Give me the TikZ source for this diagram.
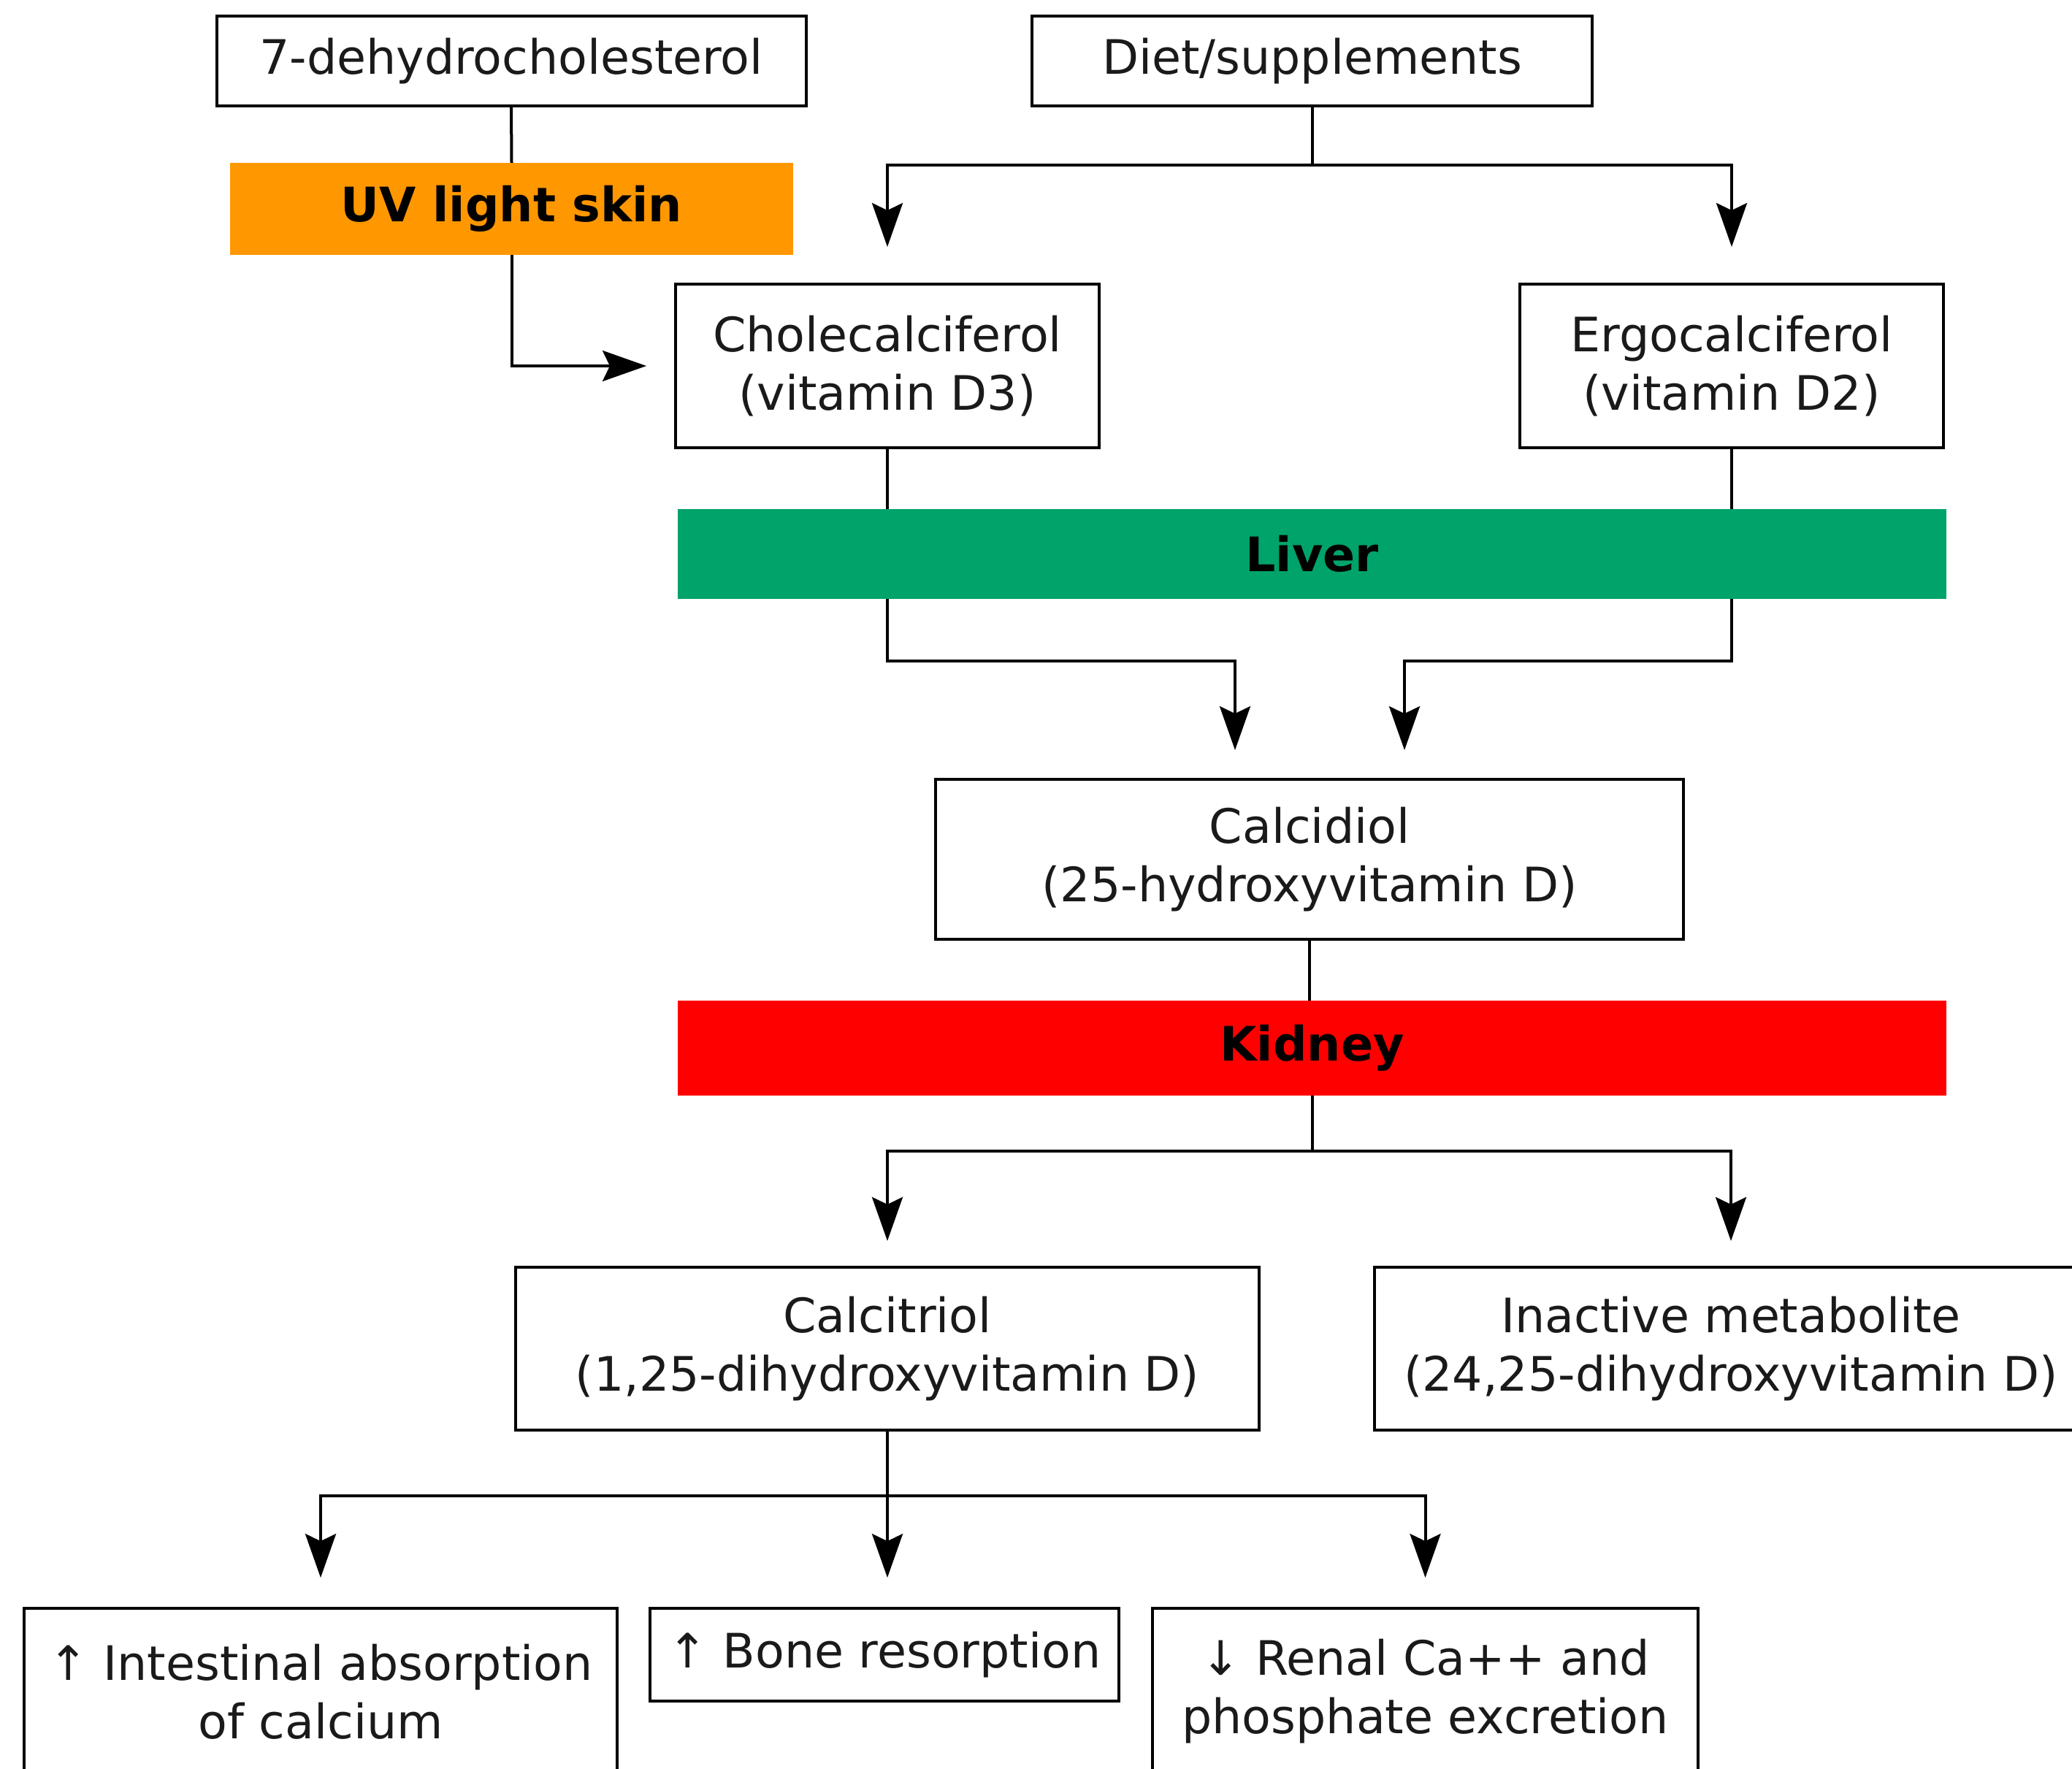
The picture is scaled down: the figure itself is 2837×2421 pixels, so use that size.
\documentclass[tikz,border=0pt]{standalone}
\usepackage{fontspec}
\setmainfont{DejaVu Sans}
\usetikzlibrary{arrows.meta}
\definecolor{uvorange}{HTML}{FF9700}
\definecolor{livergreen}{HTML}{00A36A}
\definecolor{kidneyred}{HTML}{FF0000}
\definecolor{txt}{HTML}{1A1A1A}
\begin{document}
\begin{tikzpicture}[x=1pt,y=-1pt,
  box/.style={draw=black, line width=4pt, fill=white, align=center, inner sep=0pt, text=txt,
    font=\fontsize{65}{80}\selectfont},
  bar/.style={inner sep=0pt, text=black, font=\bfseries\fontsize{65}{80}\selectfont},
  conn/.style={line width=4pt, draw=black},
  arr/.style={conn, -{Stealth[length=60pt,width=42pt,inset=10pt]}}]
\fill[white] (0,0) rectangle (2837,2421);
\useasboundingbox (0,0) rectangle (2837,2421);

% nodes
\node[box, minimum width=807pt, minimum height=123pt] (dhc) at (700,83.5) {7-dehydrocholesterol};
\node[box, minimum width=767pt, minimum height=123pt] (diet) at (1796.5,83.5) {Diet/supplements};
\node[bar, fill=uvorange, minimum width=771pt, minimum height=126pt] (uv) at (700.5,286) {UV light skin};
\node[box, minimum width=580pt, minimum height=224pt] (chole) at (1215,501) {Cholecalciferol\\(vitamin D3)};
\node[box, minimum width=580pt, minimum height=224pt] (ergo) at (2371,501) {Ergocalciferol\\(vitamin D2)};
\node[box, minimum width=1024pt, minimum height=219pt] (calcidiol) at (1793,1176.5) {Calcidiol\\(25-hydroxyvitamin D)};
\node[box, minimum width=1018pt, minimum height=223pt] (calcitriol) at (1215,1846.5) {Calcitriol\\(1,25-dihydroxyvitamin D)};
\node[box, minimum width=976pt, minimum height=223pt] (inactive) at (2370,1846.5) {Inactive metabolite\\(24,25-dihydroxyvitamin D)};
\node[box, minimum width=812pt, minimum height=228pt] (intest) at (439,2316) {↑ Intestinal absorption\\of calcium};
\node[box, minimum width=642pt, minimum height=127pt] (bone) at (1211,2265.5) {↑ Bone resorption};
\node[box, minimum width=747pt, minimum height=228pt] (renal) at (1951.5,2316) {↓ Renal Ca++ and\\phosphate excretion};

% connectors
\draw[conn] (dhc.south) -- (uv.north);
\draw[arr, shorten >=38pt] (uv.south) |- (chole.west);
\draw[conn] (diet.south) -- ++(0,79) coordinate (dj);
\draw[arr, shorten >=49pt] (dj) -| (chole.north);
\draw[arr, shorten >=49pt] (dj) -| (ergo.north);
\draw[arr, shorten >=38pt] (chole.south) -- ++(0,290) -| ([xshift=-102pt]calcidiol.north);
\draw[arr, shorten >=38pt] (ergo.south) -- ++(0,290) -| ([xshift=130pt]calcidiol.north);

% bars over lines
\node[bar, fill=livergreen, minimum width=1737pt, minimum height=123pt] (liver) at (1796.5,758.5) {Liver};
\node[bar, fill=kidneyred, minimum width=1737pt, minimum height=130pt] (kidney) at (1796.5,1435) {Kidney};

\draw[conn] (calcidiol.south) -- (calcidiol.south |- kidney.north);
\draw[conn] (kidney.south) -- ++(0,76) coordinate (kj);
\draw[arr, shorten >=34pt] (kj) -| (calcitriol.north);
\draw[arr, shorten >=34pt] (kj) -| (inactive.north);
\draw[conn] (calcitriol.south) -- ++(0,88) coordinate (cj);
\draw[arr, shorten >=40pt] (cj) -| (intest.north);
\draw[arr, shorten >=40pt] (cj) -- (cj |- bone.north);
\draw[arr, shorten >=40pt] (cj) -| (renal.north);
\end{tikzpicture}
\end{document}
